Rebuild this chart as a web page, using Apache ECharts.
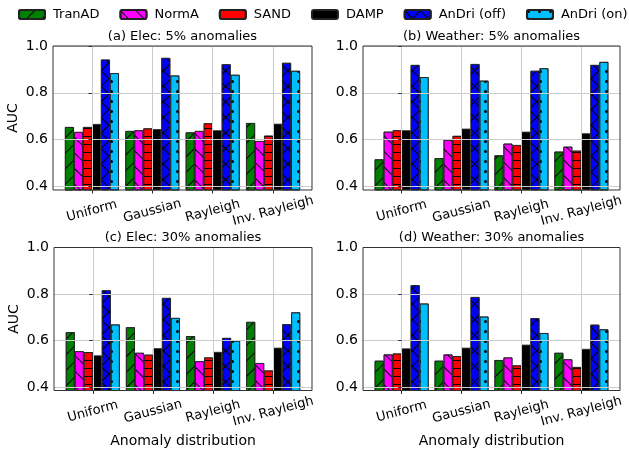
<!DOCTYPE html>
<html>
<head>
<meta charset="utf-8">
<script src="https://cdn.jsdelivr.net/npm/echarts@6/dist/echarts.min.js"></script>
<style>
html,body{margin:0;padding:0;background:#fff}
#chart{width:629px;height:455px}
</style>
</head>
<body>
<div id="chart"></div>
<script>
// anomaly distributions on the x axis
var categories = ['Uniform', 'Gaussian', 'Rayleigh', 'Inv. Rayleigh'];
var methods = ['TranAD', 'NormA', 'SAND', 'DAMP', 'AnDri (off)', 'AnDri (on)'];
var yTicks = [0.4, 0.6, 0.8, 1.0];

// AUC per method (rows follow methods), per distribution (columns follow categories)
var elec5 = [
    [0.654, 0.637, 0.631, 0.671],
    [0.633, 0.640, 0.637, 0.594],
    [0.654, 0.648, 0.670, 0.617],
    [0.667, 0.645, 0.640, 0.668],
    [0.942, 0.949, 0.922, 0.928],
    [0.884, 0.874, 0.877, 0.894]
];
var weather5 = [
    [0.516, 0.521, 0.533, 0.549],
    [0.634, 0.599, 0.583, 0.570],
    [0.640, 0.616, 0.577, 0.553],
    [0.640, 0.647, 0.634, 0.627],
    [0.919, 0.923, 0.894, 0.919],
    [0.867, 0.852, 0.905, 0.932]
];
var elec30 = [
    [0.636, 0.657, 0.619, 0.680],
    [0.554, 0.547, 0.511, 0.503],
    [0.550, 0.539, 0.527, 0.471],
    [0.536, 0.567, 0.551, 0.569],
    [0.816, 0.783, 0.611, 0.670],
    [0.669, 0.697, 0.599, 0.721]
];
var weather30 = [
    [0.513, 0.513, 0.516, 0.547],
    [0.540, 0.540, 0.527, 0.519],
    [0.544, 0.533, 0.493, 0.486],
    [0.566, 0.569, 0.582, 0.564],
    [0.838, 0.787, 0.696, 0.668],
    [0.759, 0.703, 0.632, 0.648]
];

var panels = [elec5, weather5, elec30, weather30];
var panelTitles = ['(a) Elec: 5% anomalies', '(b) Weather: 5% anomalies',
    '(c) Elec: 30% anomalies', '(d) Weather: 30% anomalies'];

var font = 'DejaVu Sans';
var colors = ['#008000', '#ff00ff', '#ff0000', '#000000', '#0000ff', '#00bfff'];
var lineDecal = function (rot, gap) {
    return {symbol: 'rect', symbolSize: 1, symbolKeepAspect: false, color: '#000',
        dashArrayX: [1, 0], dashArrayY: [1, gap], rotation: rot};
};
var decals = [
    lineDecal(-Math.PI / 4, 10),
    lineDecal(Math.PI / 4, 10),
    lineDecal(0, 7),
    null,
    {symbol: 'rect', symbolSize: 1, symbolKeepAspect: false, color: '#000',
        dashArrayX: [[11, 0], [1, 10]], dashArrayY: [1, 0, 10, 0], rotation: Math.PI / 4},
    {symbol: 'circle', symbolSize: 1, color: '#000',
        dashArrayX: [2.5, 7.5], dashArrayY: [2.5, 7]}
];

// plot boxes: left, top, width, height
var boxes = [[53, 46, 259, 144], [363, 46, 257, 144], [54, 247.5, 258, 143], [363, 247.5, 257, 143]];

var chart = echarts.init(document.getElementById('chart'), null, {renderer: 'canvas'});

var grids = [], xAxes = [], yAxes = [], titles = [], series = [];
for (var g = 0; g < 4; g++) {
    var b = boxes[g];
    grids.push({left: b[0], top: b[1], width: b[2], height: b[3], show: true,
        borderColor: '#333', borderWidth: 1, backgroundColor: 'transparent', z: 4});
    titles.push({text: panelTitles[g], left: b[0] + b[2] / 2, top: b[1] - 16, textAlign: 'center', padding: 0,
        textStyle: {fontSize: 13, fontWeight: 'normal', color: '#000', fontFamily: font}});
    xAxes.push({
        gridIndex: g, type: 'value', min: -0.645, max: 3.645, z: 3,
        name: g >= 2 ? 'Anomaly distribution' : '', nameLocation: 'middle', nameGap: 44,
        nameTextStyle: {fontSize: 14, color: '#000', fontFamily: font},
        axisLine: {show: false},
        axisTick: {show: true, length: 3.5, customValues: [0, 1, 2, 3], lineStyle: {color: '#333'}},
        axisLabel: {customValues: [0, 1, 2, 3], formatter: function (v) { return categories[v]; },
            rotate: 15, align: 'center', verticalAlign: 'middle', margin: 21,
            fontSize: 13, color: '#000', fontFamily: font},
        splitLine: {show: true, lineStyle: {color: '#cccccc', width: 1}}
    });
    yAxes.push({
        gridIndex: g, type: 'value', min: 0.385, max: 1.0, z: 3,
        name: g % 2 === 0 ? 'AUC' : '', nameLocation: 'middle', nameGap: 33,
        nameTextStyle: {fontSize: 14, color: '#000', fontFamily: font},
        axisLine: {show: false},
        axisTick: {show: true, length: 3.5, customValues: yTicks, lineStyle: {color: '#333'}},
        axisLabel: {customValues: yTicks, formatter: function (v) { return v.toFixed(1); },
            margin: 5, fontSize: 14, color: '#000', fontFamily: font},
        splitLine: {show: true, lineStyle: {color: '#cccccc', width: 1}}
    });
    for (var k = 0; k < methods.length; k++) {
        var style = {color: colors[k], borderColor: '#222', borderWidth: 0.8};
        if (decals[k]) style.decal = decals[k];
        series.push({
            type: 'bar', name: methods[k], xAxisIndex: g, yAxisIndex: g,
            data: panels[g][k].map(function (v, i) { return [i, v]; }),
            barWidth: 9, barGap: '0%',
            itemStyle: style,
            emphasis: {disabled: true}
        });
    }
}

chart.setOption({
    animation: false,
    title: titles,
    legend: {
        data: methods, left: 18, top: 8, padding: 0, itemWidth: 26, itemHeight: 9, itemGap: 20,
        textStyle: {fontSize: 13, color: '#000', fontFamily: font, padding: [0, 0, 0, 3]}
    },
    grid: grids,
    xAxis: xAxes,
    yAxis: yAxes,
    series: series
});
</script>
</body>
</html>
